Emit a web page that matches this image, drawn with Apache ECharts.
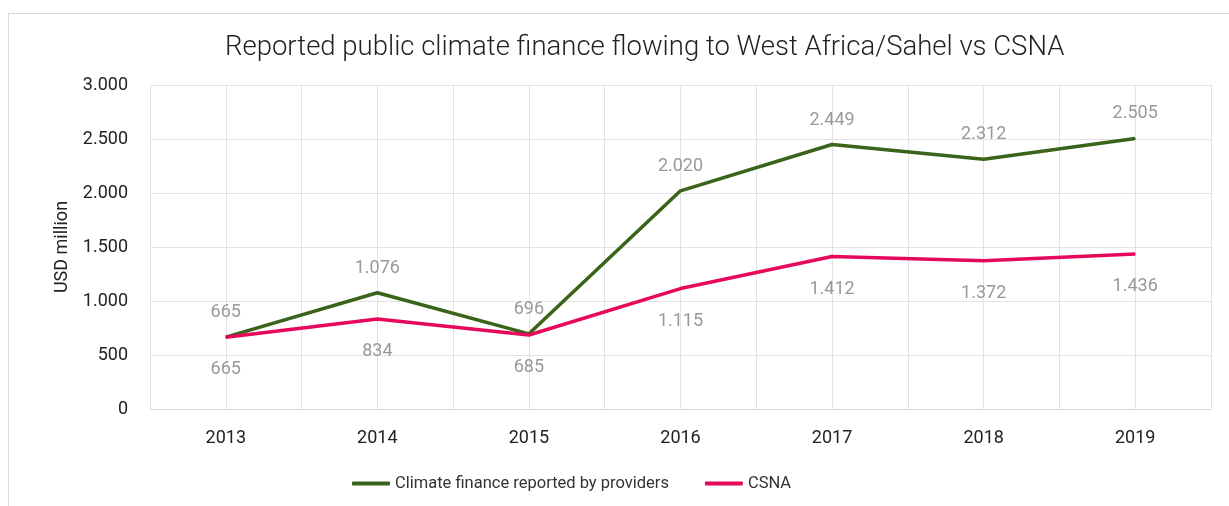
<!DOCTYPE html>
<html>
<head>
<meta charset="utf-8">
<script src="https://cdn.jsdelivr.net/npm/echarts@6/dist/echarts.min.js"></script>
<style>
  html, body { margin: 0; padding: 0; background: #fff; }
  #main { width: 1229px; height: 506px; }
</style>
</head>
<body>
<div id="main"></div>
<script>
// data
var years = ['2013', '2014', '2015', '2016', '2017', '2018', '2019'];
var providers = [665, 1076, 696, 2020, 2449, 2312, 2505];
var csna = [665, 834, 685, 1115, 1412, 1372, 1436];
var yTicks = [0, 500, 1000, 1500, 2000, 2500, 3000];

var FONT = 'Roboto';

// 1.076 style (dot as thousands separator)
function fmt(v) {
    return String(Math.round(v)).replace(/\B(?=(\d{3})+(?!\d))/g, '.');
}

var myChart = echarts.init(document.getElementById('main'));

var option = {
    backgroundColor: '#fff',
    textStyle: { fontFamily: FONT },
    title: {
        text: 'Reported public climate finance flowing to West Africa/Sahel vs CSNA',
        left: 220,
        top: 29,
        textStyle: { fontFamily: FONT, fontWeight: 300, fontSize: 27.5, color: '#222' }
    },
    graphic: [{
        type: 'rect',
        shape: { x: 8.5, y: 13.5, width: 1240, height: 520 },
        style: { fill: 'none', stroke: '#d9d9d9', lineWidth: 1 },
        silent: true
    }],
    legend: {
        data: [
            { name: 'Climate finance reported by providers', icon: 'roundRect' },
            { name: 'CSNA', icon: 'roundRect' }
        ],
        bottom: 9,
        left: 347,
        itemWidth: 38,
        itemHeight: 4,
        itemGap: 36,
        textStyle: { fontFamily: FONT, fontSize: 16.5, color: '#333' }
    },
    grid: { left: 150, right: 18, top: 85, bottom: 97 },
    xAxis: [{
        type: 'category',
        data: years,
        boundaryGap: true,
        axisLine: { lineStyle: { color: '#d9d9d9' } },
        axisTick: { show: false },
        axisLabel: { fontFamily: FONT, fontSize: 18, color: '#222', margin: 20 },
        splitLine: { show: true, lineStyle: { color: '#e3e3e3' } }
    }, {
        // helper axis: vertical gridlines through category centres
        type: 'value',
        min: 0,
        max: 14,
        interval: 1,
        show: true,
        position: 'bottom',
        axisLine: { show: false },
        axisTick: { show: false },
        axisLabel: { show: false },
        splitLine: { show: true, lineStyle: { color: '#e3e3e3' } }
    }],
    yAxis: {
        type: 'value',
        min: 0,
        max: 3000,
        interval: 500,
        name: 'USD million',
        nameLocation: 'middle',
        nameGap: 78,
        nameTextStyle: { fontFamily: FONT, fontSize: 18, color: '#222' },
        axisLine: { show: false },
        axisTick: { show: false },
        axisLabel: {
            fontFamily: FONT, fontSize: 18, color: '#222', margin: 22,
            formatter: function (v) { return yTicks.indexOf(v) >= 0 ? fmt(v) : ''; }
        },
        splitLine: { lineStyle: { color: '#e3e3e3' } }
    },
    series: [
        {
            name: 'Climate finance reported by providers',
            type: 'line',
            data: providers,
            symbol: 'circle',
            symbolSize: 1,
            showSymbol: true,
            lineStyle: { width: 3.5, color: '#3a6419' },
            itemStyle: { color: '#3a6419' },
            label: {
                show: true,
                position: 'top',
                distance: 15,
                fontFamily: FONT, fontSize: 18, color: '#999',
                formatter: function (p) { return fmt(p.value); }
            },
            z: 3
        },
        {
            name: 'CSNA',
            type: 'line',
            data: csna,
            symbol: 'circle',
            symbolSize: 1,
            showSymbol: true,
            lineStyle: { width: 3.5, color: '#e6085a' },
            itemStyle: { color: '#e6085a' },
            label: {
                show: true,
                position: 'bottom',
                distance: 23,
                fontFamily: FONT, fontSize: 18, color: '#999',
                formatter: function (p) { return fmt(p.value); }
            },
            z: 4
        }
    ]
};

myChart.setOption(option);
window.onresize = function () {
    myChart.resize();
};
</script>
</body>
</html>
